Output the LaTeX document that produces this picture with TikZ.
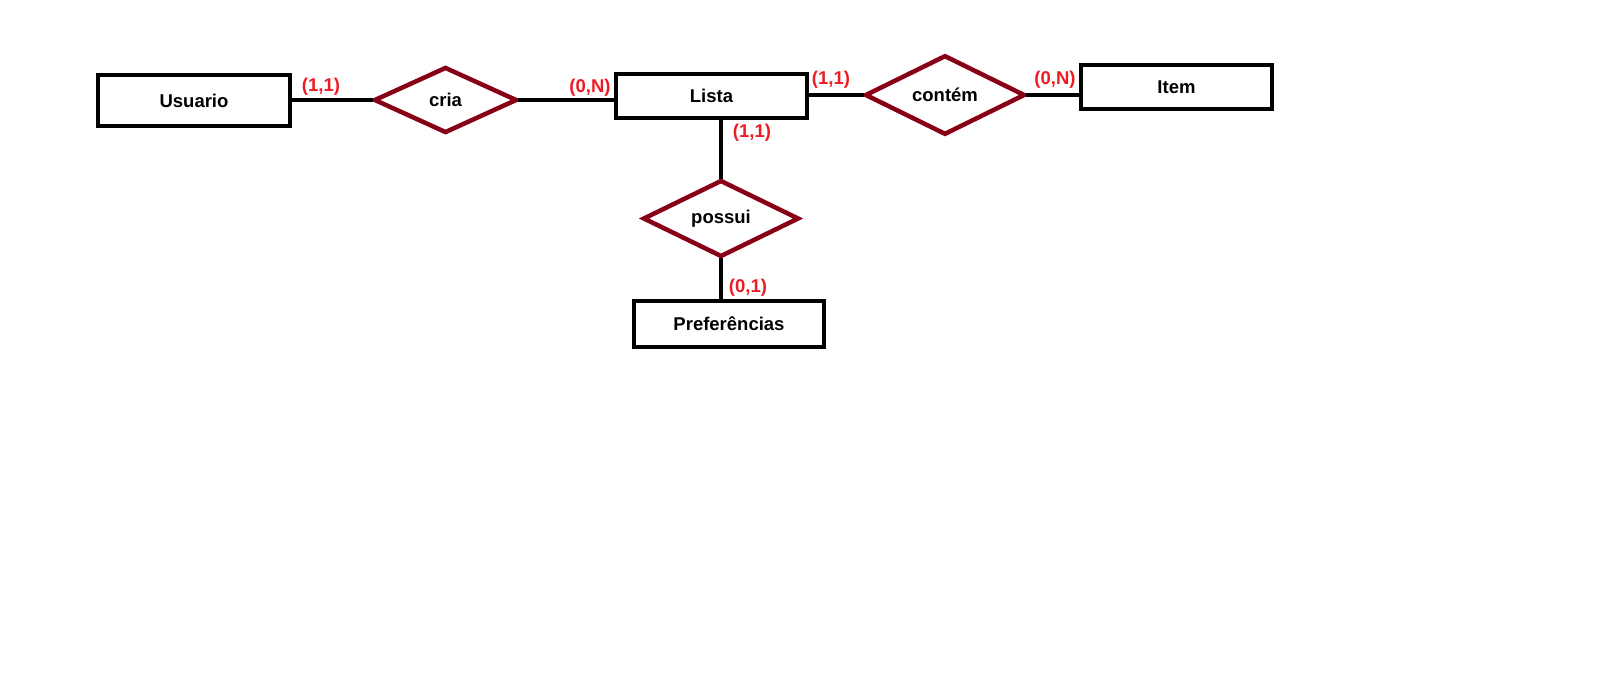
\documentclass[tikz,border=0pt]{standalone}
\usepackage{fontspec}
\setmainfont{Liberation Sans}
\usetikzlibrary{shapes.geometric}
\definecolor{relred}{RGB}{136,0,21}
\definecolor{cardred}{RGB}{237,28,36}
\begin{document}
\begin{tikzpicture}[x=1pt,y=-1pt,
  entity/.style={draw=black,line width=4.5pt,rectangle,inner sep=0pt,font=\bfseries\fontsize{18.5}{22}\selectfont},
  rel/.style={draw=relred,line width=4.5pt,diamond,inner sep=0pt,font=\bfseries\fontsize{18.5}{22}\selectfont},
  card/.style={text=cardred,inner sep=0pt,font=\bfseries\fontsize{18.5}{22}\selectfont},
  conn/.style={draw=black,line width=4.5pt,shorten <=-1pt,shorten >=-1pt}]
\useasboundingbox[fill=white] (0,0) rectangle (1598,689);
\node[entity,minimum width=192pt,minimum height=51pt] (usuario) at (194,100.5) {Usuario};
\node[entity,minimum width=191pt,minimum height=44pt] (lista) at (711.5,96) {Lista};
\node[entity,minimum width=191pt,minimum height=44pt] (item) at (1176.5,87) {Item};
\node[entity,minimum width=190pt,minimum height=46pt] (pref) at (729,324) {Preferências};
\node[rel,minimum width=143pt,minimum height=66pt] (cria) at (445.5,100) {cria};
\node[rel,minimum width=160pt,minimum height=66pt] (contem) at (945,95) {contém};
\node[rel,minimum width=156pt,minimum height=68pt] (possui) at (721,218.5) {possui};
\draw[conn] (usuario.east |- cria.west) -- (cria.west);
\draw[conn] (cria.east) -- (cria.east -| lista.west);
\draw[conn] (contem.west -| lista.east) -- (contem.west);
\draw[conn] (contem.east) -- (contem.east -| item.west);
\draw[conn] (possui.north |- lista.south) -- (possui.north);
\draw[conn] (possui.south) -- (possui.south |- pref.north);
\node[card] (c1) at (321,87) {(1,1)};
\node[card] (c2) at (590,88) {(0,N)};
\node[card] (c3) at (831,80) {(1,1)};
\node[card] (c4) at (1055,80) {(0,N)};
\node[card] (c5) at (752,133) {(1,1)};
\node[card] (c6) at (748,288) {(0,1)};
\end{tikzpicture}
\end{document}
